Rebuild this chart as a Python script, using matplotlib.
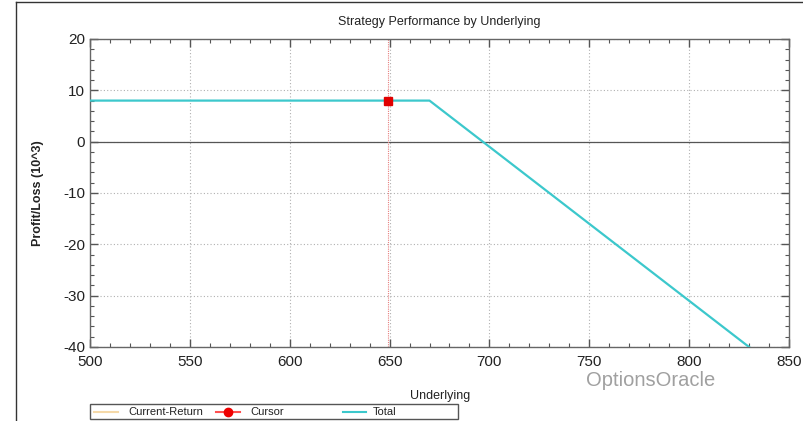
import matplotlib
matplotlib.use("Agg")
import matplotlib.pyplot as plt
from matplotlib.lines import Line2D
from matplotlib.patches import Rectangle
from matplotlib.ticker import MultipleLocator

# Data
underlying = [500, 670, 830]
total_pl = [8, 8, -40]
cursor_x = 649
cursor_y = 8
x_ticks = [500, 550, 600, 650, 700, 750, 800, 850]
y_ticks = [-40, -30, -20, -10, 0, 10, 20]

plt.rcParams['font.family'] = ['Liberation Sans', 'DejaVu Sans']
plt.rcParams['axes.unicode_minus'] = False

fig = plt.figure(figsize=(8.04, 4.21), dpi=100)
fig.patch.set_facecolor('white')
W, H = 804, 421
ax = fig.add_axes([90 / W, 1 - 347 / H, (789 - 90) / W, (347 - 39) / H])

ax.plot(underlying, total_pl, color='#3cc8cc', lw=1.6, zorder=3)
ax.axhline(0, color='#555555', lw=0.9, zorder=2)
ax.axvline(cursor_x, color='#e88080', lw=0.8, ls=(0, (1, 1)), zorder=2)
ax.plot([cursor_x], [cursor_y], marker='s', ms=6, color='#e00000', zorder=4)

ax.set_xlim(500, 850)
ax.set_ylim(-40, 20)
ax.set_xticks(x_ticks)
ax.set_yticks(y_ticks)
ax.xaxis.set_minor_locator(MultipleLocator(10))
ax.yaxis.set_minor_locator(MultipleLocator(2))
ax.tick_params(axis='both', which='both', direction='in', top=True, right=True,
               color='#555555', labelsize=11, labelcolor='#222222')
ax.tick_params(which='major', length=6, width=1)
ax.tick_params(which='minor', length=3, width=0.8)
ax.tick_params(axis='x', pad=6)
ax.grid(True, which='major', color='#b0b0b0', ls=(0, (1, 2)), lw=0.8)
for s in ax.spines.values():
    s.set_color('#666666')
    s.set_linewidth(1)

ax.set_title('Strategy Performance by Underlying', fontsize=9, pad=10, color='#222222')
ax.set_xlabel('Underlying', fontsize=9, color='#222222', labelpad=4)
ax.set_ylabel('Profit/Loss (10^3)', fontsize=9, fontweight='bold', color='#222222')
ax.xaxis.set_label_coords((440 - 90) / (789 - 90), -(390 - 347) / (347 - 39))
ax.yaxis.set_label_coords(-(90 - 44) / (789 - 90), 0.5)

# Watermark
fig.text(586 / W, 1 - 380 / H, 'OptionsOracle', fontsize=14.5, color='#a0a0a0', va='center', ha='left')

# Frame border
fig.add_artist(Line2D([16 / W, 16 / W], [0, 1 - 2 / H], transform=fig.transFigure, color='#333333', lw=1))
fig.add_artist(Line2D([16 / W, 1], [1 - 2 / H, 1 - 2 / H], transform=fig.transFigure, color='#333333', lw=1))

# Legend box
lx0, lx1, ly0, ly1 = 90, 458, 404, 419
fig.add_artist(Rectangle((lx0 / W, 1 - ly1 / H), (lx1 - lx0) / W, (ly1 - ly0) / H,
                         transform=fig.transFigure, fill=False, ec='#555555', lw=1))
ymid = 1 - 412 / H
entries = [
    (94, 118, 128, '#f5d9a8', None, 'Current-Return'),
    (216, 240, 250, '#ff5050', 'o', 'Cursor'),
    (343, 366, 373, '#3cc8cc', None, 'Total'),
]
for xa, xb, xt, col, mk, lab in entries:
    fig.add_artist(Line2D([xa / W, xb / W], [ymid, ymid], transform=fig.transFigure, color=col, lw=1.5))
    if mk:
        fig.add_artist(Line2D([(xa + xb) / 2 / W], [ymid], transform=fig.transFigure,
                              color='#ee0000', marker=mk, ms=6, lw=0))
    fig.text(xt / W, ymid, lab, fontsize=8, va='center', ha='left', color='#222222')

fig.savefig('out.png', dpi=100)
